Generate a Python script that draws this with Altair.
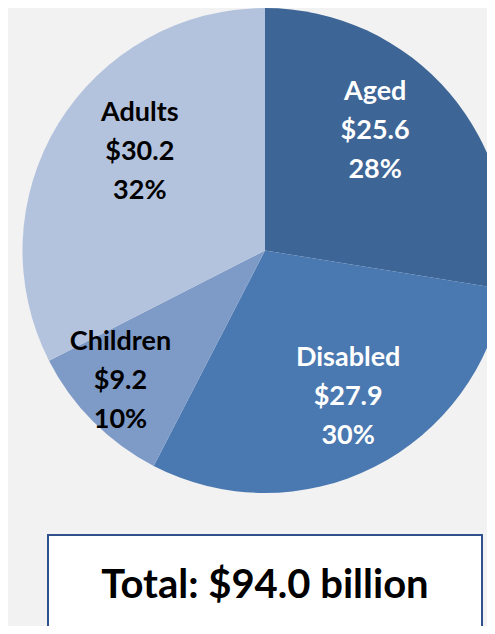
import math
import altair as alt
import pandas as pd

# ---- data ----
categories = ["Aged", "Disabled", "Children", "Adults"]
values = [25.6, 27.9, 9.2, 30.2]          # $ billions
amount_labels = ["$25.6", "$27.9", "$9.2", "$30.2"]
percent_labels = ["28%", "30%", "10%", "32%"]
total_label = "Total: $94.0 billion"

# ---- styling ----
slice_colors = ["#3D6596", "#4A78B0", "#7E9BC8", "#B4C3DD"]
label_colors = ["#FFFFFF", "#FFFFFF", "#000000", "#000000"]
# label placement of the first line (angle clockwise from 12 o'clock, distance from centre in px)
label_angle = [34.8, 142.3, 237.7, 317.7]
label_radius = [193, 136, 171, 186]

FONT = "Lato"
W, H = 479, 618
CX, CY, R = 257, 242.5, 242.5

pie_df = pd.DataFrame({
    "category": categories,
    "value": values,
    "order": list(range(len(categories))),
})

lab_df = pd.DataFrame({
    "category": categories,
    "text": [f"{c}\n{a}\n{p}" for c, a, p in zip(categories, amount_labels, percent_labels)],
    "deg": label_angle,
    "r": label_radius,
    "fc": label_colors,
})

pie = alt.Chart(pie_df).mark_arc(radius=R, stroke=None).encode(
    theta=alt.Theta("value:Q", stack=True),
    order=alt.Order("order:Q"),
    color=alt.Color("category:N", scale=alt.Scale(domain=categories, range=slice_colors), legend=None),
    x=alt.value(CX),
    y=alt.value(CY),
)

labels = alt.Chart(lab_df).mark_text(
    font=FONT, fontWeight="bold", fontSize=27, lineBreak="\n", lineHeight=39,
    align="center", baseline="middle",
).encode(
    theta=alt.Theta("deg:Q", scale=alt.Scale(domain=[0, 360], range=[0, 2 * math.pi]), stack=False),
    radius=alt.Radius("r:Q", scale=None),
    text="text:N",
    color=alt.Color("fc:N", scale=None),
    x=alt.value(CX),
    y=alt.value(CY),
)

box_df = pd.DataFrame({"t": [total_label]})
box = alt.Chart(box_df).mark_rect(fill="#FFFFFF", stroke="#2F528F", strokeWidth=2).encode(
    x=alt.value(40), x2=alt.value(474), y=alt.value(527), y2=alt.value(640),
)
total = alt.Chart(box_df).mark_text(
    font=FONT, fontWeight="bold", fontSize=40, align="center", baseline="middle", color="#000000",
).encode(
    text="t:N", x=alt.value(257), y=alt.value(578),
)

chart = alt.layer(pie, labels, box, total).resolve_scale(
    theta="independent", color="independent"
).properties(
    width=W, height=H, padding=0,
    autosize=alt.AutoSizeParams(type="none"),
    background="#F2F2F2",
).configure_view(stroke=None)

chart.save("out.html", embed_options={"renderer": "svg", "actions": False})
